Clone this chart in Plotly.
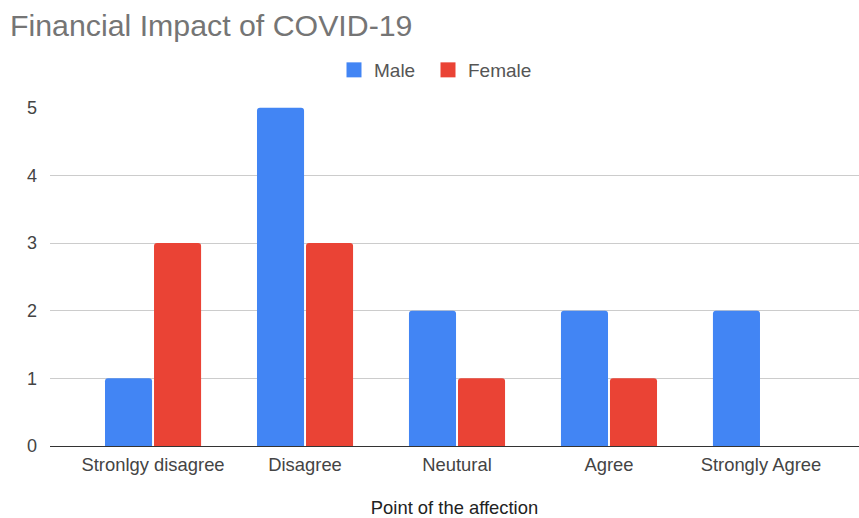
import plotly.graph_objects as go

categories = ["Stronlgy disagree", "Disagree", "Neutural", "Agree", "Strongly Agree"]
male = [1, 5, 2, 2, 2]
female = [3, 3, 1, 1, 0]
y_ticks = [0, 1, 2, 3, 4, 5]

BLUE = "#4285f4"
RED = "#ea4335"
FONT = "Arial, Liberation Sans, sans-serif"

series = [("Male", male, BLUE, "legend"), ("Female", female, RED, "legend2")]

fig = go.Figure()
for name, vals, col, _ in series:
    fig.add_trace(go.Bar(name=name, x=categories, y=vals, legendgroup=name, showlegend=False,
                         marker=dict(color=col, line=dict(width=0))))
# square legend swatches, one legend box per series
for name, _, col, leg in series:
    fig.add_trace(go.Scatter(name=name, x=[None], y=[None], mode="markers", legendgroup=name,
                             legend=leg, marker=dict(symbol="square", size=15, color=col)))

legend_style = dict(
    orientation="h",
    xanchor="left", xref="container",
    y=1 - 70 / 518, yanchor="middle", yref="container",
    font=dict(family=FONT, size=19, color="#555555"),
    itemsizing="trace",
    itemwidth=30,
)

fig.update_layout(
    width=859,
    height=518,
    margin=dict(l=50, r=0, t=107, b=72),
    paper_bgcolor="white",
    plot_bgcolor="white",
    barmode="group",
    bargap=0.355,
    bargroupgap=0.04,
    barcornerradius=3,
    font=dict(family=FONT, size=18, color="#444444"),
    title=dict(
        text="Financial Impact of COVID-19",
        x=10 / 859, xanchor="left", xref="container",
        y=1 - 25 / 518, yanchor="middle", yref="container",
        font=dict(family=FONT, size=30.3, color="#757575"),
    ),
    legend=dict(x=334 / 859, **legend_style),
    legend2=dict(x=428 / 859, **legend_style),
    xaxis=dict(
        range=[-0.678, 4.645],
        automargin=False,
        showgrid=False,
        showline=True,
        linecolor="#333333",
        linewidth=1,
        ticks="",
        ticklabelstandoff=2,
        tickfont=dict(size=18.4, color="#444444"),
        title=dict(text="Point of the affection", font=dict(size=18.4, color="#222222"), standoff=34),
    ),
    yaxis=dict(
        range=[0, 5.01],
        automargin=False,
        tickvals=y_ticks,
        showgrid=True,
        gridcolor="#cccccc",
        gridwidth=1,
        zeroline=False,
        ticks="",
        ticklabelstandoff=12,
        tickfont=dict(size=18, color="#444444"),
    ),
)

fig.write_html("out.html")
